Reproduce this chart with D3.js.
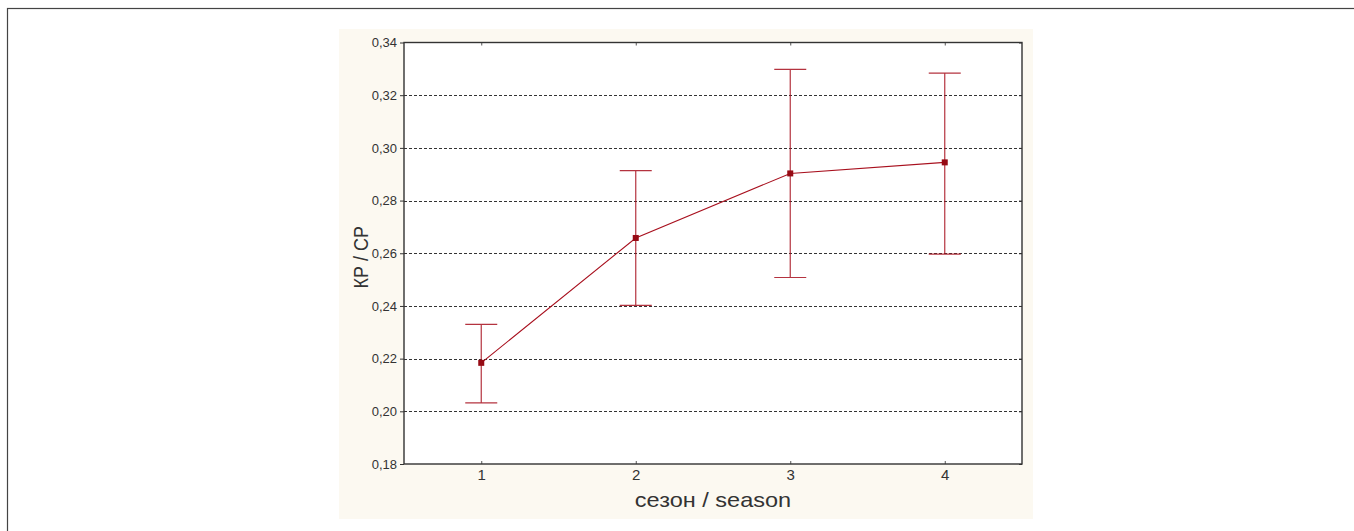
<!DOCTYPE html>
<html>
<head>
<meta charset="utf-8">
<script src="https://cdn.jsdelivr.net/npm/d3@7"></script>
<style>
  html, body { margin: 0; padding: 0; background: #fff; }
  svg { display: block; font-family: "Liberation Sans", Arial, sans-serif; }
</style>
</head>
<body>
<svg id="chart" width="1354" height="531"></svg>
<script>
// Season means of the KP/CP ratio with their interval bounds
const seasons = [1, 2, 3, 4];
const means = [0.2184, 0.2658, 0.2903, 0.2945];
const lower = [0.2032, 0.2402, 0.2508, 0.2597];
const upper = [0.2330, 0.2914, 0.3298, 0.3284];
const yTicks = [0.18, 0.20, 0.22, 0.24, 0.26, 0.28, 0.30, 0.32, 0.34];
const xLabel = "сезон / season";
const yLabel = "КР / СР";

const svg = d3.select("#chart");

// outer frame (extends past the right and bottom edges)
svg.append("rect")
  .attr("x", 7.5).attr("y", 8.5)
  .attr("width", 1400).attr("height", 600)
  .attr("fill", "none").attr("stroke", "#444").attr("stroke-width", 1.2);

// cream panel behind the plot
svg.append("rect")
  .attr("x", 339).attr("y", 29)
  .attr("width", 694).attr("height", 490)
  .attr("fill", "#fcf9f1");

const m = { left: 404, top: 42.5, right: 1022, bottom: 464 };

const x = d3.scaleLinear().domain([0.5, 4.5]).range([m.left, m.right]);
const y = d3.scaleLinear().domain([0.18, 0.34]).range([m.bottom, m.top]);

// plot background
svg.append("rect")
  .attr("x", m.left).attr("y", m.top)
  .attr("width", m.right - m.left).attr("height", m.bottom - m.top)
  .attr("fill", "#fff");

// dashed horizontal grid
svg.append("g")
  .selectAll("line")
  .data(yTicks.filter(t => t > 0.18 && t < 0.34))
  .join("line")
  .attr("x1", m.left).attr("x2", m.right)
  .attr("y1", d => Math.round(y(d)) + 0.5).attr("y2", d => Math.round(y(d)) + 0.5)
  .attr("stroke", "#333").attr("stroke-width", 1)
  .attr("stroke-dasharray", "3,2");

const fmt = d => d3.format(".2f")(d).replace(".", ",");

// left axis
const yAxis = svg.append("g")
  .attr("transform", `translate(${m.left},0)`)
  .call(d3.axisLeft(y).tickValues(yTicks).tickFormat(fmt).tickSize(4).tickPadding(3));
yAxis.select(".domain").remove();
yAxis.selectAll("line").attr("stroke", "#333");
yAxis.selectAll("text").attr("font-size", 13).attr("fill", "#333");

// right-side inner ticks
svg.append("g")
  .attr("transform", `translate(${m.right},0)`)
  .call(d3.axisLeft(y).tickValues(yTicks).tickFormat("").tickSize(3))
  .call(g => g.select(".domain").remove())
  .selectAll("line").attr("stroke", "#333");

// bottom axis
const xAxis = svg.append("g")
  .attr("transform", `translate(0,${m.bottom})`)
  .call(d3.axisBottom(x).tickValues(seasons).tickFormat(d3.format("d")).tickSize(-3).tickPadding(5));
xAxis.select(".domain").remove();
xAxis.selectAll("line").attr("stroke", "#555");
xAxis.selectAll("text").attr("font-size", 15).attr("fill", "#333");

// top inner ticks
svg.append("g")
  .attr("transform", `translate(0,${m.top})`)
  .call(d3.axisTop(x).tickValues(seasons).tickFormat("").tickSize(-3))
  .call(g => g.select(".domain").remove())
  .selectAll("line").attr("stroke", "#555");

// plot frame
svg.append("rect")
  .attr("x", m.left).attr("y", m.top)
  .attr("width", m.right - m.left).attr("height", m.bottom - m.top)
  .attr("fill", "none").attr("stroke", "#333").attr("stroke-width", 1.4);

// axis titles (slightly widened lettering)
svg.append("text")
  .attr("transform", `translate(368,${(m.top + m.bottom) / 2 + 4}) scale(1.12,1) rotate(-90)`)
  .attr("text-anchor", "middle")
  .attr("font-size", 18).attr("fill", "#333")
  .text(yLabel);

svg.append("text")
  .attr("transform", `translate(${x(2.5)},507) scale(1.12,1)`)
  .attr("text-anchor", "middle")
  .attr("font-size", 21).attr("fill", "#333")
  .text(xLabel);

const red = "#a8101e";
const pts = seasons.map((s, i) => ({ s, m: means[i], lo: lower[i], hi: upper[i] }));

// error bars
const eb = svg.append("g").attr("stroke", red).attr("stroke-width", 1.2).attr("opacity", 0.85);
eb.selectAll("line.v").data(pts).join("line").attr("class", "v")
  .attr("x1", d => x(d.s)).attr("x2", d => x(d.s))
  .attr("y1", d => y(d.lo)).attr("y2", d => y(d.hi));
eb.selectAll("line.hi").data(pts).join("line").attr("class", "hi")
  .attr("x1", d => x(d.s) - 16).attr("x2", d => x(d.s) + 16)
  .attr("y1", d => y(d.hi)).attr("y2", d => y(d.hi));
eb.selectAll("line.lo").data(pts).join("line").attr("class", "lo")
  .attr("x1", d => x(d.s) - 16).attr("x2", d => x(d.s) + 16)
  .attr("y1", d => y(d.lo)).attr("y2", d => y(d.lo));

// mean line
svg.append("path")
  .datum(pts)
  .attr("fill", "none").attr("stroke", red).attr("stroke-width", 1.1)
  .attr("d", d3.line().x(d => x(d.s)).y(d => y(d.m)));

// markers
svg.append("g").selectAll("rect").data(pts).join("rect")
  .attr("x", d => x(d.s) - 3).attr("y", d => y(d.m) - 3)
  .attr("width", 6).attr("height", 6)
  .attr("fill", "#960a14");
</script>
</body>
</html>
